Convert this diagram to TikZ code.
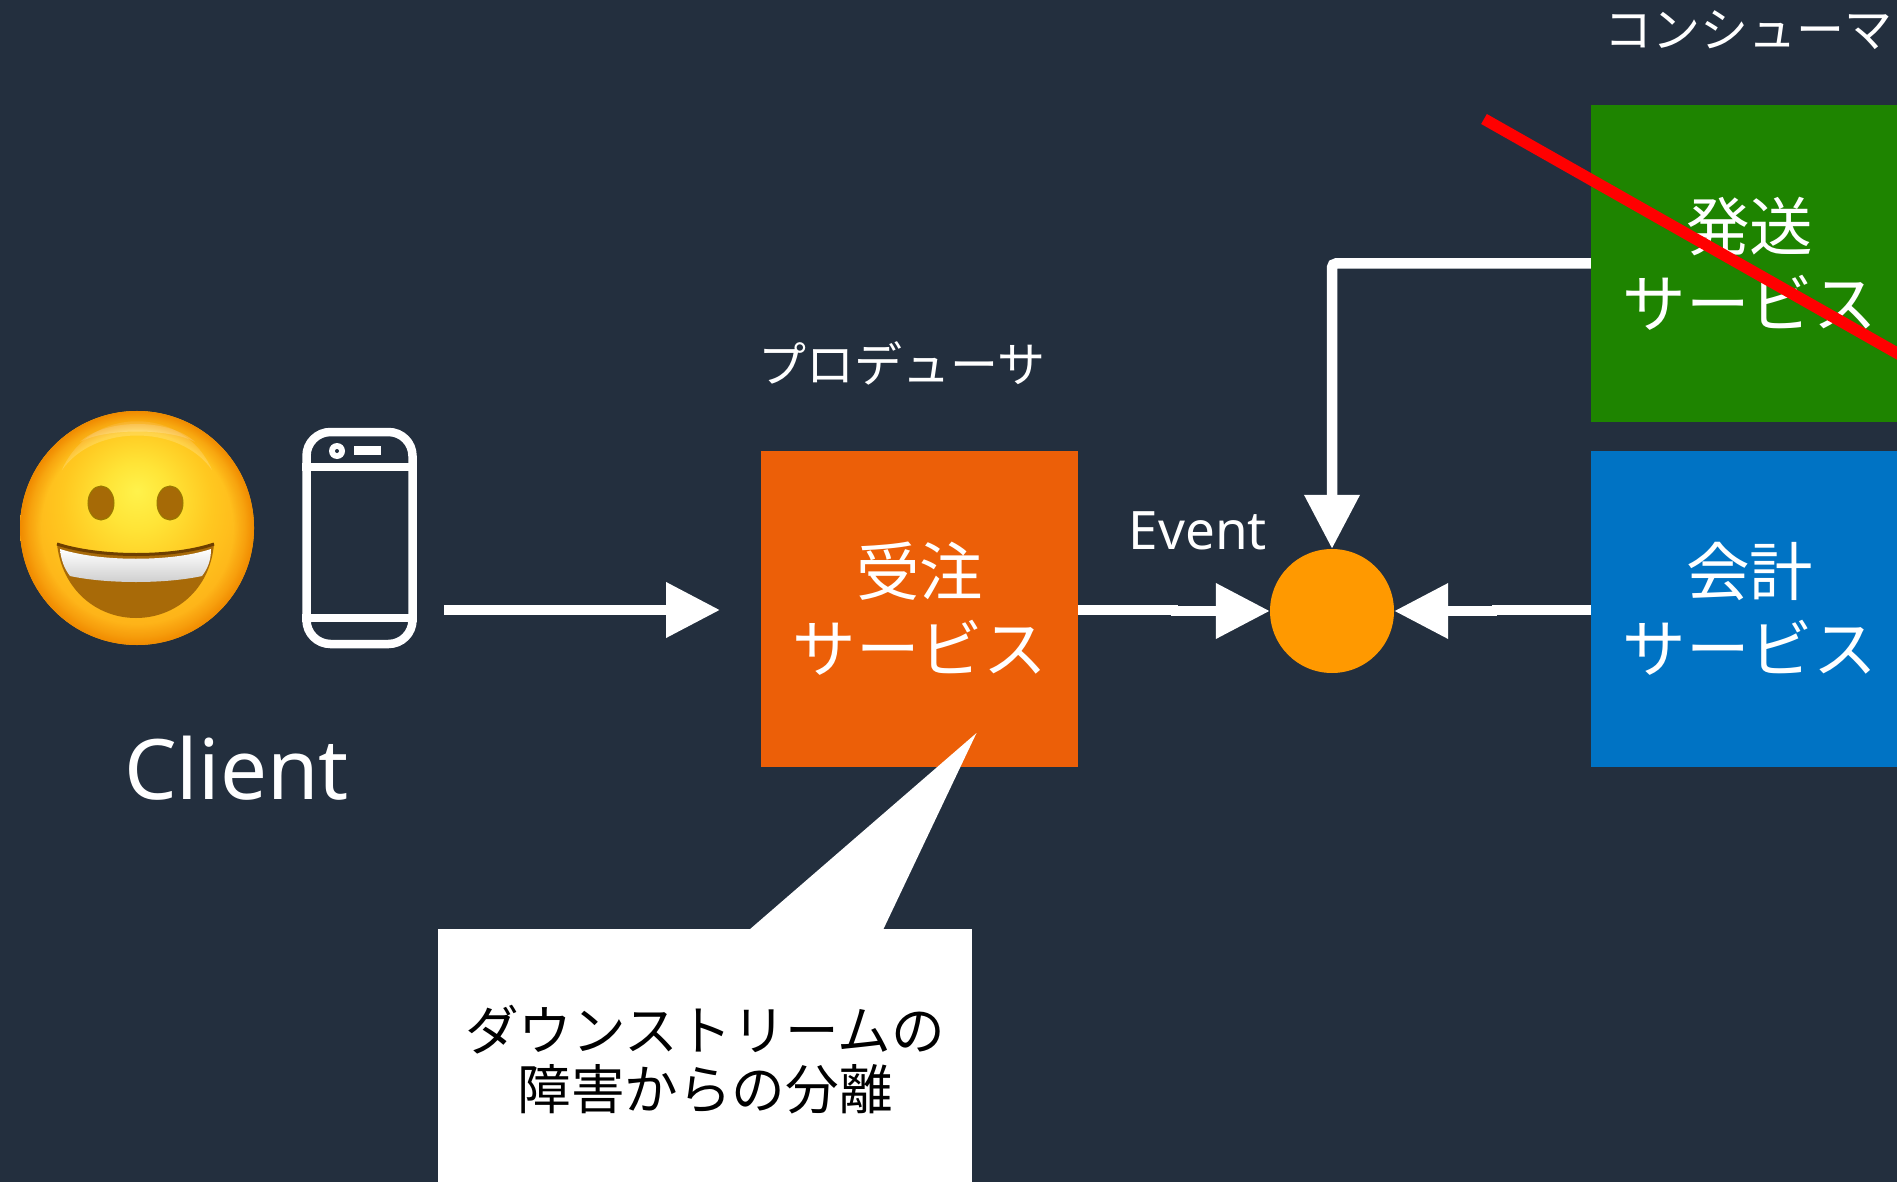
\documentclass[tikz,border=0pt]{standalone}
\usepackage{fontspec}
\setmainfont{Noto Sans}
\newfontfamily\cjk{Noto Sans CJK JP}
\usetikzlibrary{arrows.meta,calc,fadings}
\definecolor{bgdark}{HTML}{232F3E}
\definecolor{ordercol}{HTML}{EC5F08}
\definecolor{shipcol}{HTML}{1E8400}
\definecolor{acctcol}{HTML}{0073C4}
\definecolor{buscol}{HTML}{FF9900}
\definecolor{crossred}{HTML}{FF0000}
\definecolor{mouthcol}{HTML}{A86A08}
\definecolor{mouthline}{HTML}{6E3F00}
\definecolor{eyecol}{HTML}{A66A06}
\definecolor{rimcol}{HTML}{F08A00}
\pgfdeclareradialshading{emojiface}{\pgfpoint{0bp}{8bp}}{%
  color(0bp)=(rgb,255:red,255;green,242;blue,75);
  color(7bp)=(rgb,255:red,255;green,228;blue,55);
  color(16bp)=(rgb,255:red,255;green,200;blue,32);
  color(25bp)=(rgb,255:red,254;green,178;blue,24);
  color(33bp)=(rgb,255:red,250;green,160;blue,15);
  color(50bp)=(rgb,255:red,250;green,160;blue,15)}
\pgfdeclareradialshading{rimshade}{\pgfpointorigin}{%
  color(0bp)=(black);color(20.5bp)=(black);color(23bp)=(black!55!white);color(25bp)=(white);color(50bp)=(white)}
\pgfdeclarefading{rimfade}{\pgfuseshading{rimshade}}
\tikzset{
  x=1pt,y=-1pt,
  svcbox/.style={minimum width=317pt,minimum height=316pt,inner sep=0pt,text=white,align=center,
     font=\cjk\fontsize{63.5}{77}\selectfont},
  caplabel/.style={text=white,inner sep=0pt,font=\cjk\fontsize{48}{56}\selectfont},
  wire/.style={draw=white,line width=10.5pt},
  flow/.style={wire,-{Triangle[length=54pt,width=53pt]}},
  phoneline/.style={draw=white,line width=8.5pt}
}
\begin{document}
\begin{tikzpicture}
\useasboundingbox (0,0) rectangle (1897,1182);
\clip (0,0) rectangle (1897,1182);
\fill[bgdark] (0,0) rectangle (1897,1182);

% emoji
\shade[shading=emojiface] (137,528) circle[radius=117];
\fill[white,opacity=.18] (62,470) .. controls (90,405) and (184,405) .. (212,470) .. controls (180,424) and (94,424) .. (62,470) -- cycle;
\fill[white,opacity=.25] (80,442) .. controls (105,418) and (170,418) .. (195,442) .. controls (170,428) and (105,428) .. (80,442) -- cycle;
\fill[rimcol,path fading=rimfade] (137,528) circle[radius=117];
\fill[eyecol,draw=mouthline!70!yellow,line width=1pt] (101,503) ellipse[x radius=13,y radius=17];
\fill[eyecol,draw=mouthline!70!yellow,line width=1pt] (170,503) ellipse[x radius=13,y radius=17];
\fill[mouthcol] (57,544) .. controls (100,558) and (173,558) .. (214,544)
  .. controls (210,590) and (175,618) .. (136,618) .. controls (97,618) and (62,590) .. (57,544) -- cycle;
\shade[top color=white,bottom color=black!20,draw=none] (60,549) .. controls (100,562) and (172,562) .. (211,549)
  .. controls (211,560) and (208,568) .. (202,576) .. controls (165,584) and (107,584) .. (70,576)
  .. controls (64,568) and (61,560) .. (60,549) -- cycle;
\draw[mouthline,line width=3pt] (57,544) .. controls (100,558) and (173,558) .. (214,544);

% phone
\node[phoneline,rounded corners=24pt,minimum width=106pt,minimum height=212pt,inner sep=0pt] (phone) at (359.5,538) {};
\coordinate (bandaL) at (phone.west |- 0,467);
\coordinate (bandaR) at (phone.east |- 0,467);
\coordinate (bandbL) at (phone.west |- 0,618);
\coordinate (bandbR) at (phone.east |- 0,618);
\draw[phoneline] (bandaL) -- (bandaR);
\draw[phoneline] (bandbL) -- (bandbR);
\fill[white] (337,451) circle[radius=8];
\fill[bgdark] (337,451) circle[radius=2];
\fill[white] (354,446) rectangle (381,455);

\node[text=white,inner sep=0pt,font=\fontsize{83.5}{90}\selectfont] (clientlabel) at (236.5,768) {Client};

% services
\node[svcbox,fill=ordercol] (order) at (919.5,609) {受注\\サービス};
\node[svcbox,fill=shipcol] (ship) at (1749.5,263.5) {発送\\サービス};
\node[svcbox,fill=acctcol] (acct) at (1749.5,609) {会計\\サービス};
\node[circle,fill=buscol,minimum size=124pt,inner sep=0pt] (bus) at (1332,611) {};

\node[caplabel] (prodlabel) at (902,363) {プロデューサ};
\node[caplabel] (conslabel) at (1748,30) {コンシューマ};
\node[text=white,inner sep=0pt,font=\fontsize{53}{60}\selectfont] (eventlabel) at (1198,531) {Event};

% connectors
\coordinate (cstart) at (444,610);
\coordinate (cend) at (720,610);
\coordinate (orderout) at (order.east |- 0,610);
\coordinate (acctout) at (acct.west |- 0,610);
\coordinate (jlA) at (1178,610);
\coordinate (jlB) at (1171,611);
\coordinate (jrA) at (1492,610);
\coordinate (jrB) at (1497,611);
\draw[flow] (cstart) -- (cend);
\draw[wire] (orderout) -- (jlA);
\draw[flow] (jlB) -- (bus.west);
\draw[wire] (acctout) -- (jrA);
\draw[flow] (jrB) -- (bus.east);
\draw[flow,rounded corners=4pt] (ship.west) -| (bus.north);

% callout
\coordinate (tailtip) at (976.5,733);
\coordinate (tailL) at (749,930);
\coordinate (tailR) at (883,930);
\node[fill=white,minimum width=534pt,minimum height=261pt,inner sep=0pt,align=center,text=black,
      font=\cjk\fontsize{53.6}{59}\selectfont] (note) at (705,1059.5) {ダウンストリームの\\障害からの分離};
\fill[white] (tailL) -- (tailtip) -- (tailR) -- cycle;

% cross-out
\coordinate (crossA) at (1484,119);
\coordinate (crossB) at (1910,360.5);
\draw[crossred,line width=11.5pt] (crossA) -- (crossB);
\end{tikzpicture}
\end{document}
